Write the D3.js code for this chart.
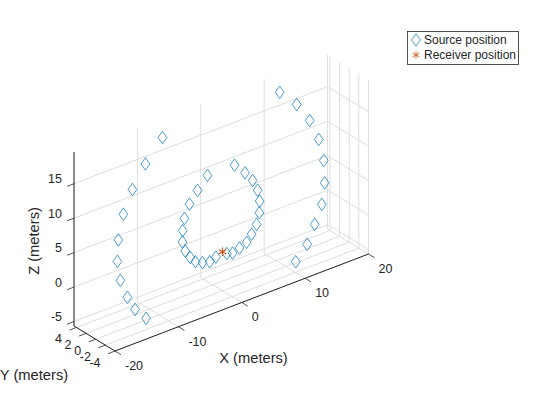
<!DOCTYPE html>
<html><head><meta charset="utf-8">
<script src="https://cdn.jsdelivr.net/npm/d3@7"></script>
<style>html,body{margin:0;background:#fff}svg{display:block}text{font-family:"Liberation Sans",Arial,sans-serif;fill:#262626}</style>
</head><body><svg id="c" width="560" height="420"></svg>
<script>
const xTicks=[-20,-10,0,10,20];
const yTicks=[-4,-2,0,2,4];
const zTicks=[-5,0,5,10,15];
const sourceX=[-9.47,-12.16,-14.21,-15.64,-16.43,-16.58,-16.11,-15.0,-13.79,-12.05,
 9.03,11.72,13.77,15.19,15.98,16.14,15.67,14.56,13.36,11.56,
 1.91,3.56,4.76,5.55,5.87,5.82,5.39,4.6,3.81,2.7,1.6,0.68,-1.03,-2.01,-3.15,-4.27,-5.09,-5.88,-6.31,-6.28,-6.0,-5.2,-3.94,-2.36];
const sourceZ=[19.91,17.03,14.04,10.96,7.51,4.44,1.52,-1.33,-3.5,-5.42,
 19.97,17.25,14.21,10.95,7.63,4.33,1.36,-1.14,-3.62,-5.51,
 11.9,10.2,8.68,6.99,5.29,3.61,2.07,0.95,0.03,-0.4,-0.75,-0.49,-0.4,-0.74,-0.46,0.06,0.97,2.18,3.63,5.28,6.96,8.74,10.29,11.92];
const sourceY=[0,0,0,0,0,0,0,0,0,0,0,0,0,0,0,0,0,0,0,0,0,0,0,0,0,0,0,0,0,0,0,0,0,0,0,0,0,0,0,0,0,0,0,0];
const receiver=[0,0,0];
const xLim=[-20,20],yLim=[-4,4.5],zLim=[-5.65,19.6];
const legendLabels=["Source position","Receiver position"];
const axisLabels={x:"X (meters)",y:"Y (meters)",z:"Z (meters)"};

const blue="#0072BD",orange="#D95319",ink="#262626",grid="#dedede";
const ox=74,oy=326;
const xPx=d3.scaleLinear().domain(xLim).range([0,253.5]);
const xPy=d3.scaleLinear().domain(xLim).range([0,-97]);
const yPx=d3.scaleLinear().domain([yLim[1],yLim[0]]).range([0,41]);
const yPy=d3.scaleLinear().domain([yLim[1],yLim[0]]).range([0,25]);
const zPy=d3.scaleLinear().domain(zLim).range([0,-174]);
const P=(x,y,z)=>[ox+xPx(x)+yPx(y), oy+xPy(x)+yPy(y)+zPy(z)];

const svg=d3.select("#c");
function seg(a,b,color,w){svg.append("line").attr("x1",a[0]).attr("y1",a[1]).attr("x2",b[0]).attr("y2",b[1]).attr("stroke",color).attr("stroke-width",w);}
const [x0,x1]=xLim,[y0,y1]=yLim,[z0,z1]=zLim;
// grid
xTicks.forEach(x=>{seg(P(x,y1,z0),P(x,y1,z1),grid,1);seg(P(x,y1,z0),P(x,y0,z0),grid,1);});
yTicks.forEach(y=>{seg(P(x1,y,z0),P(x1,y,z1),grid,1);seg(P(x0,y,z0),P(x1,y,z0),grid,1);});
zTicks.forEach(z=>{seg(P(x0,y1,z),P(x1,y1,z),grid,1);seg(P(x1,y1,z),P(x1,y0,z),grid,1);});
// axes
seg(P(x0,y1,z0),P(x0,y1,z1),ink,1);
seg(P(x0,y1,z0),P(x0,y0,z0),ink,1);
seg(P(x0,y0,z0),P(x1,y0,z0),ink,1);
// ticks
const dxx=xPx(x0+1)-xPx(x0), dxy=xPy(x0+1)-xPy(x0);
function label(s,x,y,a,size){return svg.append("text").attr("x",x).attr("y",y+1.5).attr("text-anchor",a).attr("dominant-baseline","middle").attr("font-size",size).text(s);}
xTicks.forEach(x=>{const p=P(x,y0,z0);seg(p,[p[0]+6,p[1]+3.7],ink,.8);label(x,p[0]+10,p[1]+14,"start",12.5);});
yTicks.forEach(y=>{const p=P(x0,y,z0);seg(p,[p[0]-dxx*1.1,p[1]-dxy*1.1],ink,.8);label(y,p[0]-14.5,p[1]+11,"end",12.5);});
zTicks.forEach(z=>{const p=P(x0,y1,z);seg(p,[p[0]-dxx*1.1,p[1]-dxy*1.1],ink,.8);label(z,62,p[1]-5,"end",12.5);});
label(axisLabels.x,253.5,357.5,"middle",14.7);
label(axisLabels.y,34,375,"middle",14.7);
svg.append("text").attr("transform","translate(35,241) rotate(-90)").attr("text-anchor","middle").attr("dominant-baseline","middle").attr("font-size",14.7).text(axisLabels.z);
// marks
const diamond=(cx,cy)=>`M${cx},${cy-6.3}L${cx+4.4},${cy}L${cx},${cy+6.3}L${cx-4.4},${cy}Z`;
svg.append("g").selectAll("path").data(sourceX.map((x,i)=>P(x,sourceY[i],sourceZ[i]))).join("path")
 .attr("d",d=>diamond(d[0],d[1])).attr("fill","none").attr("stroke",blue).attr("stroke-width",.7);
function star(cx,cy,r,w){[[0,1],[.866,.5],[.866,-.5]].forEach(v=>{seg([cx-v[0]*r,cy-v[1]*r],[cx+v[0]*r,cy+v[1]*r],orange,w);});}
const rp=P(...receiver);star(rp[0],rp[1],4.4,1.1);
// legend
svg.append("rect").attr("x",407.5).attr("y",31.5).attr("width",111).attr("height",33).attr("fill","#fff").attr("stroke",ink).attr("stroke-width",.8);
svg.append("path").attr("d",diamond(416,40)).attr("fill","none").attr("stroke",blue).attr("stroke-width",.7);
star(416,55,3.8,.9);
label(legendLabels[0],424,39.5,"start",12);
label(legendLabels[1],424,54.5,"start",12);
</script></body></html>
